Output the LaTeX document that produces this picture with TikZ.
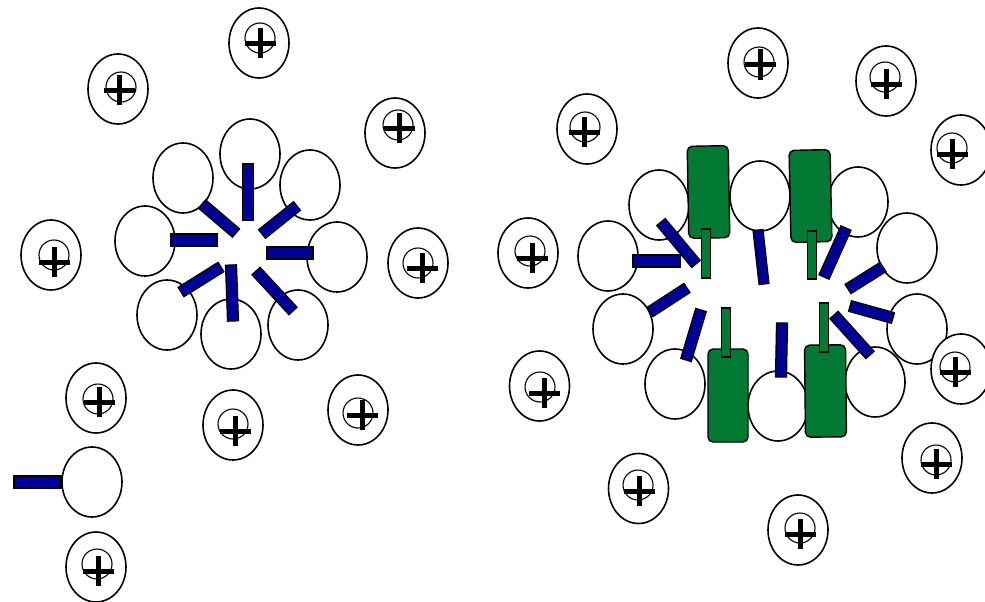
\documentclass[tikz,border=0pt]{standalone}
\usetikzlibrary{calc}
\definecolor{tailblue}{RGB}{0,0,150}
\definecolor{blockgreen}{RGB}{3,122,52}
\tikzset{
  head/.style={draw=black, line width=1.6pt, fill=white},
  tailbar/.style={draw=black, line width=1.2pt, fill=tailblue, line join=miter},
  greentail/.style={draw=black, line width=1.2pt, fill=blockgreen, line join=miter},
  block/.style={draw=black, line width=1.4pt, fill=blockgreen, rounded corners=5pt},
  ionring/.style={draw=black, line width=1.6pt, fill=white},
  ioncore/.style={draw=black, line width=1.1pt},
}
% hydrophilic head group
\newcommand{\headat}[1]{\draw[head] #1 ellipse [x radius=30, y radius=35];}
% bar of given half width between two end points
\newcommand{\rod}[4]{%
  \draw[#1] ($#3!#2!90:#4$) -- ($#4!#2!-90:#3$) -- ($#4!#2!90:#3$) -- ($#3!#2!-90:#4$) -- cycle;}
% counter-ion: outer shell, inner circle, plus sign
\newcommand{\cation}[3]{%
  \draw[ionring] #1 ellipse [x radius=30, y radius=35];
  \draw[ioncore] #2 circle [radius=15];
  \fill #3 ++(-15.5,-2.5) rectangle ++(31,5);
  \fill #3 ++(-2.5,-15) rectangle ++(5,30);}
\begin{document}
\begin{tikzpicture}[x=1pt,y=-1pt]
\fill[white] (0,0) rectangle (985,602);
\useasboundingbox (0,0) rectangle (985,602);

% ---- spherical micelle ----
\foreach \p in {(250,154),(183,178),(310,185),(145,241),(337,257),(167,315),(231,334),(298,325)}
  {\headat{\p}}
\rod{tailbar}{5.5pt}{(248,164)}{(248,220)}
\rod{tailbar}{5.5pt}{(202,204)}{(236,233)}
\rod{tailbar}{5.5pt}{(297,206)}{(262,234)}
\rod{tailbar}{6pt}{(171,240)}{(217,240)}
\rod{tailbar}{6pt}{(313,253)}{(267,253)}
\rod{tailbar}{5.5pt}{(181,292)}{(221,267)}
\rod{tailbar}{5.5pt}{(231,265)}{(233,321)}
\rod{tailbar}{5.5pt}{(256,271)}{(293,311)}

% ---- free surfactant ----
\headat{(92,482)}
\rod{tailbar}{6pt}{(14,482)}{(61,482)}

% ---- mixed micelle ----
\foreach \p in {(659,205),(760,196),(858,202),(608,256),(907,248),(623,329),(917,329),(675,384),(778,406),(875,382)}
  {\headat{\p}}
\draw[block, rotate around={1:(708,192)}] (688,146) rectangle (729,238);
\draw[block, rotate around={1.2:(810,196)}] (790,150) rectangle (831,242);
\draw[block] (708,349) rectangle (748,442);
\draw[block, rotate around={0.6:(825,391)}] (805,345) rectangle (846,437);
\rod{greentail}{4.5pt}{(706,229)}{(706,278)}
\rod{greentail}{4.5pt}{(812,231)}{(812,279)}
\rod{greentail}{4.5pt}{(726,308)}{(726,357)}
\rod{greentail}{4.5pt}{(824,303)}{(824,352)}
\rod{tailbar}{5.5pt}{(661,222)}{(696,264)}
\rod{tailbar}{6pt}{(633,261)}{(680,261)}
\rod{tailbar}{5pt}{(758,230)}{(764,284)}
\rod{tailbar}{5.5pt}{(846,228)}{(824,277)}
\rod{tailbar}{5.5pt}{(883,267)}{(848,289)}
\rod{tailbar}{5.5pt}{(650,312)}{(687,288)}
\rod{tailbar}{5.5pt}{(893,318)}{(850,306)}
\rod{tailbar}{5.5pt}{(686,360)}{(701,310)}
\rod{tailbar}{5.5pt}{(782,323)}{(781,377)}
\rod{tailbar}{5.5pt}{(870,355)}{(834,315)}

% ---- counter-ions ----
\cation{(259,43)}{(260,38)}{(260.5,43.5)}
\cation{(118,89)}{(121,87)}{(119.5,90)}
\cation{(395,133)}{(398,125)}{(399,128)}
\cation{(51,255)}{(54,255)}{(54,262)}
\cation{(418,263)}{(418,263)}{(422,268)}
\cation{(96,398)}{(98,399)}{(99,402)}
\cation{(233,425)}{(233,424)}{(235,431)}
\cation{(358,410)}{(358,413)}{(362,415)}
\cation{(96,567)}{(97,564)}{(98,571)}
\cation{(758,63)}{(759,62)}{(760,64.5)}
\cation{(886,81)}{(885,77)}{(886,84)}
\cation{(587,129)}{(585,127)}{(584,132)}
\cation{(961,150)}{(952,148)}{(952,154)}
\cation{(528,253)}{(530,251)}{(532,258)}
\cation{(961,369)}{(955,367)}{(955,372)}
\cation{(539.5,386)}{(540,387)}{(544,393)}
\cation{(932,458)}{(936,460)}{(936,464)}
\cation{(638.5,488.5)}{(638,485)}{(639,491)}
\cation{(798,530)}{(800,528)}{(800,534)}
\end{tikzpicture}
\end{document}
